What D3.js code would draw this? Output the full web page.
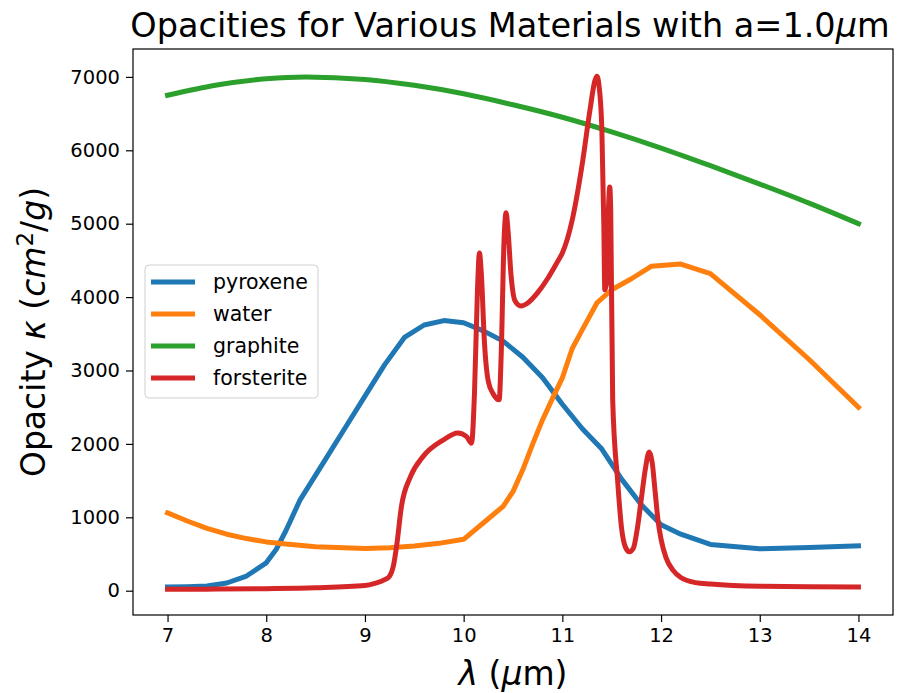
<!DOCTYPE html>
<html>
<head>
<meta charset="utf-8">
<script src="https://cdn.jsdelivr.net/npm/d3@7"></script>
<style>
  body { margin: 0; background: #fff; }
  svg { display: block; }
  text { font-family: "DejaVu Sans", sans-serif; fill: #000; }
</style>
</head>
<body>
<svg id="chart" width="905" height="693"></svg>
<script>
// ---- data ----
const xTicks = [7, 8, 9, 10, 11, 12, 13, 14];
const yTicks = [0, 1000, 2000, 3000, 4000, 5000, 6000, 7000];
const seriesNames = ["pyroxene", "water", "graphite", "forsterite"];
const seriesColors = ["#1f77b4", "#ff7f0e", "#2ca02c", "#d62728"];

const pyroxeneX = [7.0, 7.2, 7.4, 7.6, 7.8, 8.0, 8.1, 8.2, 8.34, 8.6, 8.8, 9.0, 9.2, 9.4, 9.6, 9.8, 10.0, 10.2, 10.4, 10.6, 10.8, 11.0, 11.2, 11.4, 11.6, 11.8, 12.0, 12.2, 12.5, 13.0, 13.5, 14.0];
const pyroxeneY = [50, 55, 65, 105, 200, 380, 560, 820, 1230, 1790, 2220, 2650, 3080, 3450, 3620, 3680, 3650, 3540, 3400, 3180, 2900, 2540, 2210, 1930, 1520, 1170, 900, 770, 630, 570, 590, 610];

const waterX = [7.0, 7.2, 7.4, 7.6, 7.8, 8.0, 8.2, 8.5, 9.0, 9.25, 9.5, 9.75, 10.0, 10.25, 10.4, 10.5, 10.6, 10.7, 10.8, 10.9, 11.0, 11.1, 11.2, 11.35, 11.5, 11.7, 11.9, 12.2, 12.5, 13.0, 13.5, 14.0];
const waterY = [1060, 950, 850, 770, 710, 665, 635, 600, 575, 585, 610, 645, 700, 980, 1150, 1350, 1650, 2000, 2330, 2620, 2900, 3300, 3550, 3920, 4100, 4250, 4420, 4450, 4320, 3760, 3150, 2500];

const graphiteX = [7.0, 7.5, 8.0, 8.4, 9.0, 9.5, 10.0, 10.5, 11.0, 11.5, 12.0, 12.5, 13.0, 13.5, 14.0];
const graphiteY = [6750, 6890, 6975, 7000, 6965, 6885, 6770, 6620, 6450, 6250, 6030, 5790, 5540, 5280, 5000];

const forsteriteX = [7.0, 7.5, 8.0, 8.5, 9.0, 9.1, 9.2, 9.25, 9.29, 9.32, 9.37, 9.46, 9.59, 9.79, 9.94, 10.03, 10.08, 10.11, 10.14, 10.16, 10.18, 10.21, 10.25, 10.3, 10.36, 10.38, 10.41, 10.43, 10.45, 10.48, 10.52, 10.58, 10.65, 10.75, 10.85, 10.95, 11.0, 11.1, 11.2, 11.28, 11.33, 11.35, 11.37, 11.40, 11.42, 11.43, 11.45, 11.47, 11.48, 11.49, 11.51, 11.56, 11.60, 11.64, 11.68, 11.72, 11.76, 11.80, 11.84, 11.88, 11.91, 11.94, 11.97, 12.0, 12.05, 12.12, 12.2, 12.35, 12.5, 13.0, 13.5, 14.0];
const forsteriteY = [20, 22, 28, 40, 70, 100, 150, 200, 350, 600, 1150, 1550, 1830, 2050, 2150, 2100, 2010, 2700, 4100, 4600, 4300, 3400, 2850, 2680, 2600, 3200, 4800, 5150, 4900, 4300, 3950, 3880, 3920, 4060, 4250, 4480, 4600, 5050, 5800, 6550, 6950, 7010, 6900, 6300, 5000, 4100, 4200, 5300, 5500, 5200, 2600, 1500, 850, 590, 530, 580, 850, 1250, 1650, 1890, 1750, 1350, 950, 700, 450, 280, 180, 110, 90, 60, 55, 50];

// ---- layout ----
const svg = d3.select("#chart");
const plot = { left: 133, right: 893, top: 49, bottom: 615 };

const x = d3.scaleLinear().domain([6.65, 14.35]).range([plot.left, plot.right]);
const y = d3.scaleLinear().domain([-331, 7380]).range([plot.bottom, plot.top]);

svg.append("rect").attr("width", 905).attr("height", 693).attr("fill", "#fff");

svg.append("defs").append("clipPath").attr("id", "plot-clip")
  .append("rect")
  .attr("x", plot.left).attr("y", plot.top)
  .attr("width", plot.right - plot.left).attr("height", plot.bottom - plot.top);

// ---- series ----
const series = [
  { xs: pyroxeneX, ys: pyroxeneY, curve: d3.curveLinear },
  { xs: waterX, ys: waterY, curve: d3.curveLinear },
  { xs: graphiteX, ys: graphiteY, curve: d3.curveMonotoneX },
  { xs: forsteriteX, ys: forsteriteY, curve: d3.curveMonotoneX }
];

const lines = svg.append("g").attr("clip-path", "url(#plot-clip)");
series.forEach((s, i) => {
  const pts = s.xs.map((v, k) => [v, s.ys[k]]);
  const line = d3.line().x(d => x(d[0])).y(d => y(d[1])).curve(s.curve);
  lines.append("path")
    .datum(pts)
    .attr("d", line)
    .attr("fill", "none")
    .attr("stroke", seriesColors[i])
    .attr("stroke-width", 5)
    .attr("stroke-linejoin", "round")
    .attr("stroke-linecap", "square");
});

// ---- axes ----
const xAxis = d3.axisBottom(x).tickValues(xTicks).tickFormat(d3.format("d")).tickSizeOuter(0).tickSize(7).tickPadding(6);
const yAxis = d3.axisLeft(y).tickValues(yTicks).tickFormat(d3.format("d")).tickSizeOuter(0).tickSize(7).tickPadding(6);

const gx = svg.append("g").attr("transform", `translate(0,${plot.bottom})`).call(xAxis);
const gy = svg.append("g").attr("transform", `translate(${plot.left},0)`).call(yAxis);
[gx, gy].forEach(g => {
  g.select(".domain").remove();
  g.selectAll(".tick line").attr("stroke", "#000").attr("stroke-width", 1.2);
  g.selectAll(".tick text").attr("font-size", 19.5).attr("fill", "#222")
    .style("font-family", "DejaVu Sans, sans-serif");
});

// frame
svg.append("rect")
  .attr("x", plot.left).attr("y", plot.top)
  .attr("width", plot.right - plot.left).attr("height", plot.bottom - plot.top)
  .attr("fill", "none").attr("stroke", "#000").attr("stroke-width", 1.2);

// ---- title and axis labels ----
const title = svg.append("text")
  .attr("x", (plot.left + plot.right) / 2 - 3).attr("y", 37)
  .attr("text-anchor", "middle").attr("font-size", 33.5);
title.append("tspan").text("Opacities for Various Materials with a=1.0");
title.append("tspan").attr("font-style", "italic").text("μ");
title.append("tspan").text("m");

const xl = svg.append("text")
  .attr("x", (plot.left + plot.right) / 2).attr("y", 685)
  .attr("text-anchor", "middle").attr("font-size", 33);
xl.append("tspan").attr("font-style", "italic").text("λ");
xl.append("tspan").text(" (");
xl.append("tspan").attr("font-style", "italic").text("μ");
xl.append("tspan").text("m)");

const yl = svg.append("text")
  .attr("transform", `translate(45,${(plot.top + plot.bottom) / 2}) rotate(-90)`)
  .attr("text-anchor", "middle").attr("font-size", 33);
yl.append("tspan").text("Opacity ");
yl.append("tspan").attr("font-style", "italic").text("κ");
yl.append("tspan").text(" (");
yl.append("tspan").attr("font-style", "italic").text("cm");
yl.append("tspan").attr("font-size", 23).attr("dy", -12).text("2");
yl.append("tspan").attr("dy", 12).text("/");
yl.append("tspan").attr("font-style", "italic").text("g");
yl.append("tspan").text(")");

// ---- legend ----
const legend = svg.append("g");
legend.append("rect")
  .attr("x", 145).attr("y", 265).attr("width", 173).attr("height", 133)
  .attr("rx", 4).attr("ry", 4)
  .attr("fill", "#fff").attr("fill-opacity", 0.8)
  .attr("stroke", "#d0d0d0").attr("stroke-width", 1);

const rowY = d3.scalePoint().domain(seriesNames).range([282, 378]);
seriesNames.forEach((name, i) => {
  const yy = rowY(name);
  legend.append("line")
    .attr("x1", 151).attr("x2", 195).attr("y1", yy).attr("y2", yy)
    .attr("stroke", seriesColors[i]).attr("stroke-width", 5);
  legend.append("text")
    .attr("x", 213).attr("y", yy + 7)
    .attr("font-size", 20.5).attr("fill", "#222").text(name);
});
</script>
</body>
</html>
